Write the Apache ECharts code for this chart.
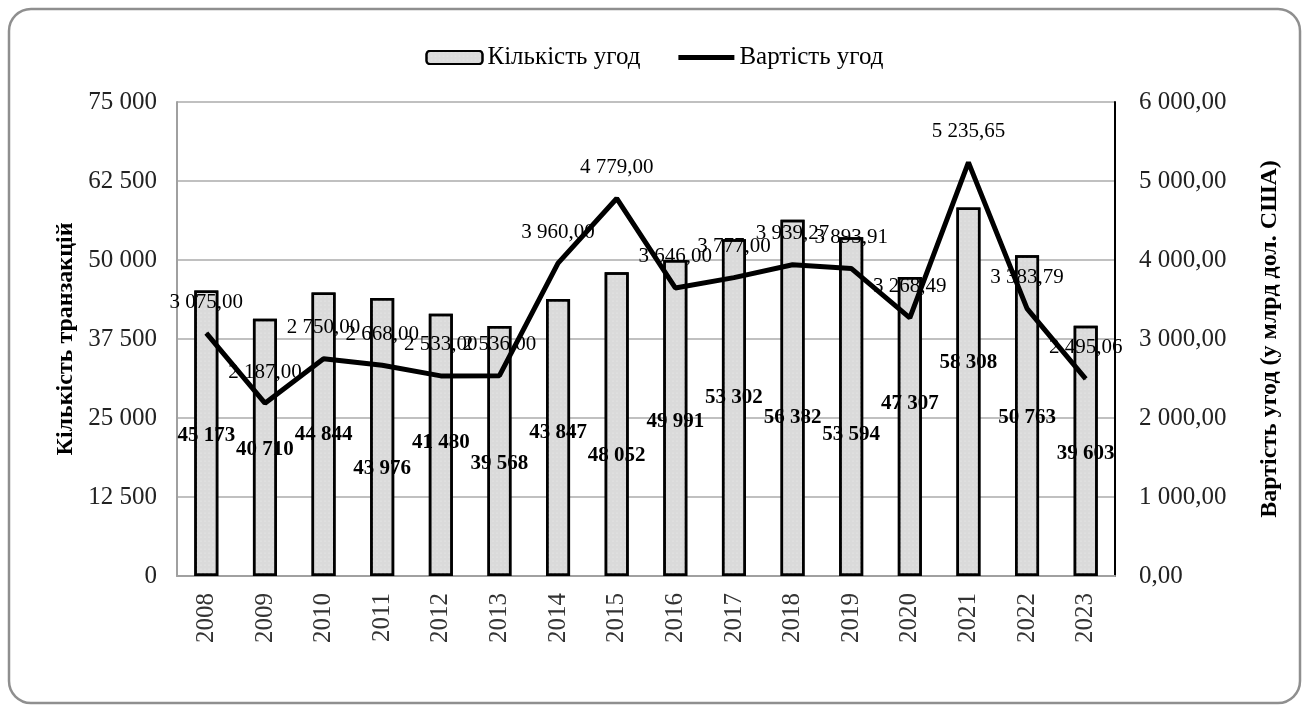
<!DOCTYPE html>
<html>
<head>
<meta charset="utf-8">
<script src="https://cdn.jsdelivr.net/npm/echarts@6/dist/echarts.min.js"></script>
<style>
  html, body { margin: 0; padding: 0; background: #ffffff; }
  #chart { width: 1309px; height: 711px; }
</style>
</head>
<body>
<div id="chart"></div>
<script>
// Роки
const years = ['2008', '2009', '2010', '2011', '2012', '2013', '2014', '2015',
               '2016', '2017', '2018', '2019', '2020', '2021', '2022', '2023'];

// Кількість угод (транзакцій)
const dealCount = [45173, 40710, 44844, 43976, 41480, 39568, 43847, 48052,
                   49991, 53302, 56382, 53594, 47307, 58308, 50763, 39603];

// Вартість угод, млрд дол. США
const dealValue = [3075.00, 2187.00, 2750.00, 2668.00, 2533.00, 2536.00, 3960.00, 4779.00,
                   3646.00, 3777.00, 3939.27, 3893.91, 3268.49, 5235.65, 3383.79, 2495.06];

// Ліва та права шкали
const countAxis = { min: 0, max: 75000, step: 12500 };
const valueAxis = { min: 0, max: 6000, step: 1000 };

// Вертикальний зсув підписів стовпців (px, від основи)
const countLabelShift = [-130, -116, -131, -97, -123, -102, -133, -110,
                         -144, -168, -148, -131, -162, -203, -148, -112];

const SERIF = '"Liberation Serif", "Times New Roman", serif';

function groupThousands(n) {
  return String(n).replace(/\B(?=(\d{3})+(?!\d))/g, ' ');
}
function money(v) {
  const [i, d] = Number(v).toFixed(2).split('.');
  return groupThousands(i) + ',' + d;
}

const chart = echarts.init(document.getElementById('chart'), null, { renderer: 'canvas' });

const option = {
  backgroundColor: '#ffffff',
  animation: false,
  graphic: [{
    type: 'rect',
    shape: { x: 9, y: 9, width: 1291, height: 694, r: 22 },
    style: { fill: 'none', stroke: '#8f8f8f', lineWidth: 2.5 },
    silent: true,
    z: -10
  }],
  legend: {
    top: 40,
    left: 'center',
    itemWidth: 56,
    itemHeight: 13,
    itemGap: 38,
    textStyle: { fontFamily: SERIF, fontSize: 25, color: '#000' },
    data: [
      { name: 'Кількість угод' },
      { name: 'Вартість угод', icon: 'path://M0,0H56V5H0Z' }
    ]
  },
  grid: { left: 177, right: 194, top: 102, bottom: 135, containLabel: false },
  xAxis: {
    type: 'category',
    data: years,
    axisLine: { show: true, lineStyle: { color: '#a0a0a0', width: 2 } },
    axisTick: { show: false },
    axisLabel: {
      rotate: 90,
      margin: 17,
      fontFamily: SERIF,
      fontSize: 25,
      color: '#333'
    }
  },
  yAxis: [{
    type: 'value',
    min: countAxis.min,
    max: countAxis.max,
    interval: countAxis.step,
    name: 'Кількість транзакцій',
    nameLocation: 'middle',
    nameRotate: 90,
    nameGap: 95,
    nameTextStyle: { fontFamily: SERIF, fontSize: 24, fontWeight: 'bold', color: '#000' },
    axisLine: { show: true, lineStyle: { color: '#a0a0a0', width: 2 } },
    axisTick: { show: false },
    splitLine: { show: true, lineStyle: { color: '#c0c0c0', width: 2 } },
    axisLabel: {
      margin: 20,
      fontFamily: SERIF,
      fontSize: 25,
      color: '#222',
      formatter: v => groupThousands(v)
    }
  }, {
    type: 'value',
    min: valueAxis.min,
    max: valueAxis.max,
    interval: valueAxis.step,
    position: 'right',
    name: 'Вартість угод (у млрд дол. США)',
    nameLocation: 'middle',
    nameRotate: 90,
    nameGap: 143,
    nameTextStyle: { fontFamily: SERIF, fontSize: 24, fontWeight: 'bold', color: '#000' },
    axisLine: { show: true, lineStyle: { color: '#000', width: 2 } },
    axisTick: { show: false },
    splitLine: { show: false },
    axisLabel: {
      margin: 24,
      fontFamily: SERIF,
      fontSize: 25,
      color: '#222',
      formatter: v => money(v)
    }
  }],
  series: [{
    name: 'Кількість угод',
    type: 'bar',
    yAxisIndex: 0,
    barWidth: 24,
    itemStyle: {
      color: '#dadada',
      borderColor: '#000',
      borderWidth: 2.5,
      decal: {
        symbol: 'circle',
        symbolSize: 0.5,
        color: 'rgba(255,255,255,0.6)',
        dashArrayX: [2, 2],
        dashArrayY: [2, 2]
      }
    },
    data: dealCount.map((v, i) => ({
      value: v,
      label: { offset: [0, countLabelShift[i]] }
    })),
    label: {
      show: true,
      position: 'insideBottom',
      distance: 0,
      fontFamily: SERIF,
      fontSize: 21,
      fontWeight: 'bold',
      color: '#000',
      formatter: p => groupThousands(p.value)
    },
    z: 2
  }, {
    name: 'Вартість угод',
    type: 'line',
    yAxisIndex: 1,
    data: dealValue,
    symbol: 'circle',
    symbolSize: 1,
    showSymbol: true,
    lineStyle: { color: '#000', width: 5 },
    itemStyle: { color: '#000' },
    label: {
      show: true,
      position: 'top',
      distance: 20,
      fontFamily: SERIF,
      fontSize: 21,
      color: '#000',
      formatter: p => money(p.value)
    },
    labelLayout: { hideOverlap: false },
    z: 3
  }]
};

chart.setOption(option);
</script>
</body>
</html>
